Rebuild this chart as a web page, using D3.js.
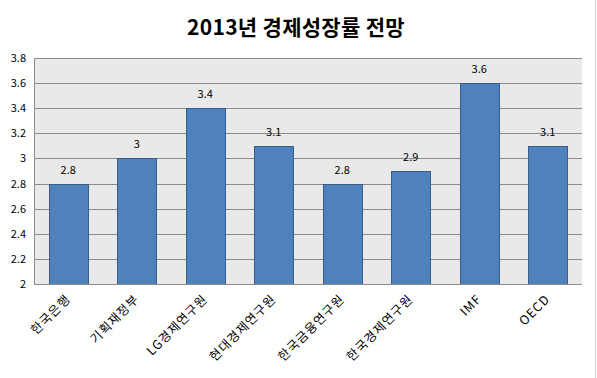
<!DOCTYPE html>
<html>
<head>
<meta charset="utf-8">
<script src="https://cdn.jsdelivr.net/npm/d3@7"></script>
<style>
body { margin: 0; background: #fff; }
text { font-family: "Noto Sans CJK KR", "Noto Sans", sans-serif; }
</style>
</head>
<body>
<div id="chart"></div>
<script>
var width = 597,
	height = 378;

var categories = ["한국은행", "기획재정부", "LG경제연구원", "현대경제연구원", "한국금융연구원", "한국경제연구원", "IMF", "OECD"];
var values = [2.8, 3.0, 3.4, 3.1, 2.8, 2.9, 3.6, 3.1];
var yTicks = [2, 2.2, 2.4, 2.6, 2.8, 3, 3.2, 3.4, 3.6, 3.8];
var title = "2013년 경제성장률 전망";

var margin = {top: 58, left: 34, right: 14, bottom: 94};

var svg = d3.select("#chart").append("svg")
	.attr("width", width)
	.attr("height", height);

// outer chart border on the right edge
svg.append("line")
	.attr("x1", 595.5).attr("x2", 595.5)
	.attr("y1", 0).attr("y2", height)
	.attr("stroke", "#d4d4d4");

var x = d3.scaleBand()
	.domain(categories)
	.range([margin.left, width - margin.right - 1])
	.paddingInner(0.43)
	.paddingOuter(0.215);

var y = d3.scaleLinear()
	.domain([2, 3.8])
	.range([height - margin.bottom, margin.top]);

svg.append("text")
	.attr("x", 296)
	.attr("y", 35)
	.attr("text-anchor", "middle")
	.attr("font-size", 21)
	.attr("font-weight", "bold")
	.attr("letter-spacing", 0.3)
	.attr("fill", "#000")
	.text(title);

// plot background
svg.append("rect")
	.attr("x", margin.left)
	.attr("y", margin.top)
	.attr("width", width - margin.right - 1 - margin.left)
	.attr("height", y(2) - y(3.8))
	.attr("fill", "#e9e9e9");

// gridlines
svg.append("g")
	.selectAll("line")
	.data(yTicks)
	.enter().append("line")
	.attr("x1", margin.left)
	.attr("x2", width - margin.right - 1)
	.attr("y1", function(d) { return Math.round(y(d)) + 0.5; })
	.attr("y2", function(d) { return Math.round(y(d)) + 0.5; })
	.attr("stroke", "#8c8c8c");

// left axis line
svg.append("line")
	.attr("x1", margin.left + 0.5).attr("x2", margin.left + 0.5)
	.attr("y1", margin.top).attr("y2", y(2))
	.attr("stroke", "#8c8c8c");

var yAxis = d3.axisLeft(y)
	.tickValues(yTicks)
	.tickSize(0)
	.tickPadding(8)
	.tickFormat(d3.format("~g"));

svg.append("g")
	.attr("transform", "translate(" + margin.left + ",0)")
	.call(yAxis)
	.call(function(g) { g.select(".domain").remove(); })
	.selectAll("text")
	.attr("font-size", 11)
	.attr("fill", "#000");

svg.append("g")
	.selectAll("rect")
	.data(values)
	.enter().append("rect")
	.attr("x", function(d, i) { return Math.round(x(categories[i])) + 0.5; })
	.attr("y", function(d) { return Math.round(y(d)) + 0.5; })
	.attr("width", Math.round(x.bandwidth()))
	.attr("height", function(d) { return Math.round(y(2)) - Math.round(y(d)); })
	.attr("fill", "#4f81bd")
	.attr("stroke", "#385d8a");

svg.append("g")
	.selectAll("text")
	.data(values)
	.enter().append("text")
	.attr("x", function(d, i) { return x(categories[i]) + x.bandwidth() / 2; })
	.attr("y", function(d) { return y(d) - 10; })
	.attr("text-anchor", "middle")
	.attr("font-size", 11)
	.attr("fill", "#000")
	.text(function(d) { return d3.format("~g")(d); });

// bottom axis line
svg.append("line")
	.attr("x1", margin.left).attr("x2", width - margin.right - 1)
	.attr("y1", Math.round(y(2)) + 0.5).attr("y2", Math.round(y(2)) + 0.5)
	.attr("stroke", "#8c8c8c");

svg.append("g")
	.selectAll("text")
	.data(categories)
	.enter().append("text")
	.attr("transform", function(d) {
		return "translate(" + (x(d) + x.bandwidth() / 2 + 3) + "," + (y(2) + 16) + ") rotate(-45)";
	})
	.attr("text-anchor", "end")
	.attr("font-size", 12.5)
	.attr("letter-spacing", 1)
	.attr("fill", "#000")
	.text(function(d) { return d; });
</script>
</body>
</html>
